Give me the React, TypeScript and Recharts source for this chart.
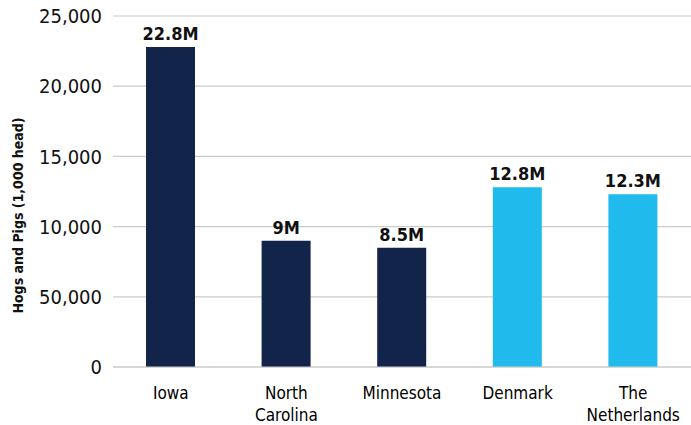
import React from 'react';
import {
  BarChart,
  Bar,
  XAxis,
  YAxis,
  CartesianGrid,
  Cell,
  LabelList,
} from 'recharts';

// data
const places = ['Iowa', 'North Carolina', 'Minnesota', 'Denmark', 'The Netherlands'];
const regions = ['US', 'US', 'US', 'EU', 'EU'];
const hogs = [22800, 9000, 8500, 12800, 12300];
const hogLabels = ['22.8M', '9M', '8.5M', '12.8M', '12.3M'];
const yTicks = [0, 5000, 10000, 15000, 20000, 25000];
const yTickLabels = ['0', '50,000', '10,000', '15,000', '20,000', '25,000'];

const FONT = '"DejaVu Sans Condensed", "Liberation Sans Narrow", "Liberation Sans", sans-serif';
const COLORS: Record<string, string> = { US: '#12244A', EU: '#21BAEC' };

const data = places.map((name, i) => ({
  name,
  value: hogs[i],
  label: hogLabels[i],
  region: regions[i],
}));

function CategoryTick(props: any) {
  const { x, y, payload } = props;
  const lines = String(payload.value).split(' ');
  return (
    <text
      x={x}
      y={y + 24}
      textAnchor="middle"
      fill="#000"
      fontFamily={FONT}
      fontSize={17}
    >
      {lines.map((line, i) => (
        <tspan key={i} x={x} dy={i === 0 ? 0 : 22}>
          {line}
        </tspan>
      ))}
    </text>
  );
}

function AxisTitle(props: any) {
  const vb = props.viewBox || {};
  const cx = 18;
  const cy = (vb.y ?? 0) + (vb.height ?? 0) / 2 + 24;
  return (
    <text
      x={cx}
      y={cy}
      transform={`rotate(-90, ${cx}, ${cy})`}
      textAnchor="middle"
      dominantBaseline="central"
      fill="#111"
      fontFamily={FONT}
      fontWeight="bold"
      fontSize={14}
    >
      Hogs and Pigs (1,000 head)
    </text>
  );
}

export default function App() {
  return (
    <div style={{ position: 'absolute', left: 0, top: 0, background: '#fff' }}>
      <BarChart
        width={691}
        height={425}
        data={data}
        margin={{ top: 16, right: 0, left: 0, bottom: 0 }}
      >
        <CartesianGrid vertical={false} stroke="#cccccc" strokeWidth={1.2} />
        <XAxis
          dataKey="name"
          height={58}
          axisLine={{ stroke: '#cccccc', strokeWidth: 1.2 }}
          tickLine={false}
          interval={0}
          tick={<CategoryTick />}
        />
        <YAxis
          width={113}
          domain={[0, 25000]}
          ticks={yTicks}
          axisLine={false}
          tickLine={false}
          tickMargin={5}
          tickFormatter={(v: number) => yTickLabels[yTicks.indexOf(v)] ?? String(v)}
          tick={{ fill: '#111', fontFamily: FONT, fontSize: 20 }}
          label={<AxisTitle />}
        />
        <Bar dataKey="value" barSize={49} isAnimationActive={false}>
          {data.map((d, i) => (
            <Cell key={i} fill={COLORS[d.region]} />
          ))}
          <LabelList
            dataKey="label"
            position="top"
            offset={7}
            fill="#111"
            fontFamily={FONT}
            fontWeight="bold"
            fontSize={18}
          />
        </Bar>
      </BarChart>
    </div>
  );
}
